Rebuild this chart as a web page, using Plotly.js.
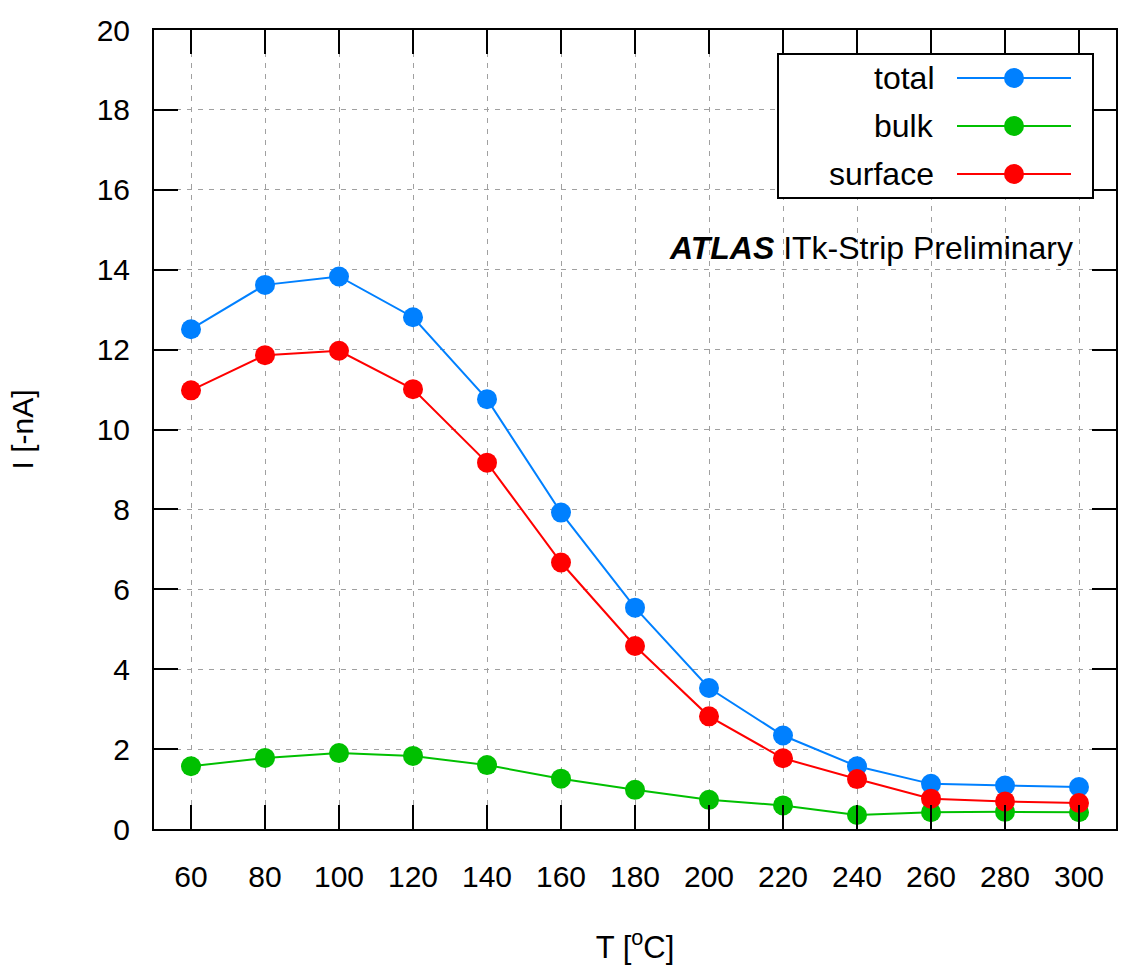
<!DOCTYPE html>
<html>
<head>
<meta charset="utf-8">
<script src="https://cdn.plot.ly/plotly-3.0.1.min.js"></script>
<style>html,body{margin:0;padding:0;background:#fff;}#chart{width:1144px;height:978px;}</style>
</head>
<body>
<div id="chart"></div>
<script>
const temperature = [60, 80, 100, 120, 140, 160, 180, 200, 220, 240, 260, 280, 300];
const totalCurrent = [12.51, 13.62, 13.83, 12.81, 10.76, 7.92, 5.54, 3.53, 2.34, 1.57, 1.13, 1.09, 1.05];
const bulkCurrent = [1.57, 1.78, 1.90, 1.83, 1.60, 1.26, 0.98, 0.73, 0.59, 0.35, 0.42, 0.43, 0.42];
const surfaceCurrent = [10.98, 11.86, 11.97, 11.01, 9.17, 6.67, 4.58, 2.82, 1.77, 1.25, 0.76, 0.69, 0.65];
const seriesNames = ['total', 'bulk', 'surface'];
const seriesColors = ['#0080ff', '#00c000', '#ff0000'];
const xTicks = [60, 80, 100, 120, 140, 160, 180, 200, 220, 240, 260, 280, 300];
const yTicks = [0, 2, 4, 6, 8, 10, 12, 14, 16, 18, 20];

const FONT = 'Liberation Sans, Arial, sans-serif';
const W = 1144, H = 978;
const M = {l: 154, r: 28, t: 30, b: 149};
const PW = W - M.l - M.r, PH = H - M.t - M.b;
const px = x => (x - M.l) / PW;
const py = y => (H - M.b - y) / PH;

const values = [totalCurrent, bulkCurrent, surfaceCurrent];
const traces = values.map((v, i) => ({
  x: temperature, y: v, name: seriesNames[i], type: 'scatter', mode: 'lines+markers',
  line: {color: seriesColors[i], width: 2},
  marker: {color: seriesColors[i], size: 20, line: {width: 0}},
  showlegend: false, cliponaxis: false
}));

// custom legend (text left, symbol right) drawn in paper coordinates
const shapes = [{
  type: 'rect', xref: 'paper', yref: 'paper',
  x0: px(778), x1: px(1093), y0: py(198), y1: py(54),
  line: {color: '#000', width: 2}, fillcolor: '#fff', layer: 'above'
}];
const annotations = [];
const rowY = [78, 126, 174];
seriesNames.forEach((n, i) => {
  shapes.push({type: 'line', xref: 'paper', yref: 'paper', x0: px(957), x1: px(1071), y0: py(rowY[i]), y1: py(rowY[i]),
    line: {color: seriesColors[i], width: 2}, layer: 'above'});
  shapes.push({type: 'circle', xref: 'paper', yref: 'paper', xsizemode: 'pixel', ysizemode: 'pixel',
    xanchor: px(1014), yanchor: py(rowY[i]), x0: -10, x1: 10, y0: -10, y1: 10,
    fillcolor: seriesColors[i], line: {width: 0}, layer: 'above'});
  annotations.push({xref: 'paper', yref: 'paper', x: px(936), y: py(rowY[i]), xanchor: 'right', yanchor: 'middle',
    text: n, showarrow: false, font: {family: FONT, size: 32, color: '#000'}});
});
annotations.push({xref: 'paper', yref: 'paper', x: px(1075), y: py(248), xanchor: 'right', yanchor: 'middle',
  text: '<b><i>ATLAS</i></b> ITk-Strip Preliminary', showarrow: false, font: {family: FONT, size: 32, color: '#000'}});

const axisCommon = {
  showline: true, linecolor: '#000', linewidth: 2, mirror: 'ticks',
  ticks: 'inside', ticklen: 24, tickwidth: 2, tickcolor: '#000',
  showgrid: true, gridcolor: '#a0a0a0', gridwidth: 1, griddash: '5px,6px',
  zeroline: false, tickfont: {family: FONT, size: 30, color: '#000'}
};

const layout = {
  width: W, height: H, margin: M, paper_bgcolor: '#fff', plot_bgcolor: '#fff',
  font: {family: FONT, size: 30, color: '#000'},
  showlegend: false,
  xaxis: Object.assign({}, axisCommon, {
    range: [50, 310], tickvals: xTicks, ticklabelstandoff: 20,
    title: {text: 'T [<sup>o</sup>C]', font: {family: FONT, size: 31, color: '#000'}, standoff: 44}
  }),
  yaxis: Object.assign({}, axisCommon, {
    range: [0, 20], tickvals: yTicks, ticklabelstandoff: 16,
    title: {text: 'I [-nA]', font: {family: FONT, size: 30, color: '#000'}, standoff: 54}
  }),
  shapes: shapes, annotations: annotations
};

Plotly.newPlot('chart', traces, layout, {displayModeBar: false, staticPlot: true});
</script>
</body>
</html>
